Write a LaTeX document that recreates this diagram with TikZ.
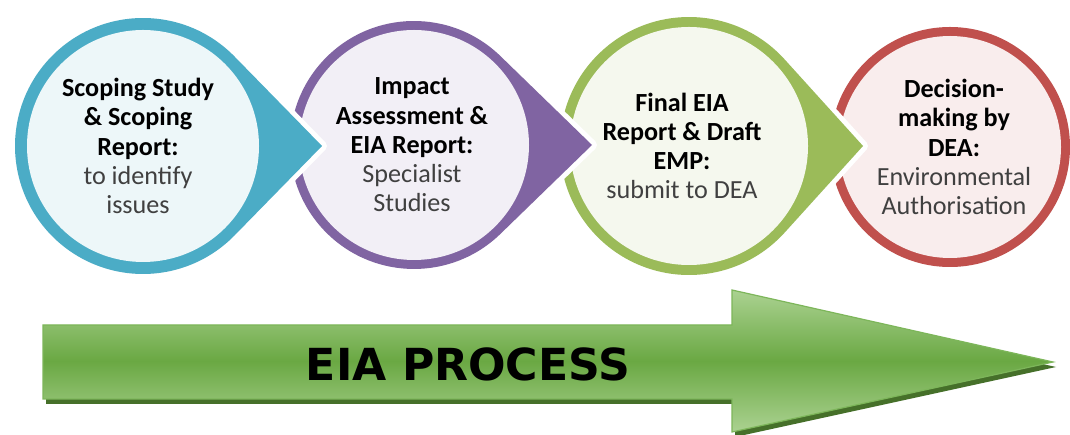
\documentclass[tikz,border=0pt]{standalone}
\usepackage{fontspec}
\setmainfont{Carlito}
\newfontfamily\bannerfont{DejaVu Sans}

\definecolor{scopingteal}{HTML}{4BACC6}
\definecolor{impactpurple}{HTML}{8064A2}
\definecolor{finalgreen}{HTML}{9BBB59}
\definecolor{decisionred}{HTML}{C0504D}
\definecolor{bodygray}{HTML}{404040}
\definecolor{arrowlight}{HTML}{ABD291}
\definecolor{arrowmid}{HTML}{6AA843}
\definecolor{arrowedge}{HTML}{7DB65A}
\definecolor{arrowshadow}{HTML}{46702A}

\tikzset{
  halo/.style={draw=white, line width=2.5mm, line join=round},
  stagetext/.style={align=center, text=black,
    font=\fontsize{18.6}{20.8}\selectfont\bfseries},
  banner/.style={text=black, font=\bannerfont\bfseries\fontsize{31.4}{36}\selectfont},
}
\newcommand\plainline[1]{{\mdseries\color{bodygray}#1}}

\begin{document}
\begin{tikzpicture}[x=0.25mm, y=0.25mm]
\useasboundingbox (0,0) rectangle (1070,435);
\fill[white] (0,0) rectangle (1070,435);

% Drawing stage 4 (plain circle, nothing points out of it)
\fill[decisionred] (950.000000,288.000000) circle (120);
\fill[decisionred!10] (950.000000,288.000000) circle (111);

% Drawing stage 3 drop, tip at (863,289)
\draw[halo] (863.000000,289.000000) -- (784.640000,375.570000) arc (42.16:317.84:129) -- cycle;
\fill[finalgreen] (863.000000,289.000000) -- (784.640000,375.570000) arc (42.16:317.84:129) -- cycle;
\fill[finalgreen!10] (689.000000,289.000000) circle (119);

% Drawing stage 2 drop, tip at (592,290)
\draw[halo] (592.000000,290.000000) -- (500.380000,378.960000) arc (45.84:314.16:124) -- cycle;
\fill[impactpurple] (592.000000,290.000000) -- (500.380000,378.960000) arc (45.84:314.16:124) -- cycle;
\fill[impactpurple!10] (414.000000,290.000000) circle (115);

% Drawing stage 1 drop, tip at (322,289)
\draw[halo] (322.000000,289.000000) -- (234.530000,378.470000) arc (44.35:315.65:128) -- cycle;
\fill[scopingteal] (322.000000,289.000000) -- (234.530000,378.470000) arc (44.35:315.65:128) -- cycle;
\fill[scopingteal!10] (143.000000,289.000000) circle (116);

% Marking the stage texts
\node[stagetext] (scoping) at (138,289) {Scoping Study\\ \& Scoping\\ Report:\\
  \plainline{to identify}\\ \plainline{issues}};
\node[stagetext] (impact) at (412,290) {Impact\\ Assessment \&\\ EIA Report:\\
  \plainline{Specialist}\\ \plainline{Studies}};
\node[stagetext] (final) at (682,289) {Final EIA\\ Report \& Draft\\ EMP:\\
  \plainline{submit to DEA}};
\node[stagetext] (decision) at (954,288) {Decision-\\ making by\\ DEA:\\
  \plainline{Environmental}\\ \plainline{Authorisation}};

% Drawing the process arrow with its shadow
\fill[arrowshadow, shift={(3,-5)}] (43,110) -- (732,110) -- (732,145) -- (1053,73)
  -- (732,3) -- (732,36) -- (43,36) -- cycle;
\shade[top color=arrowlight, bottom color=arrowlight, middle color=arrowmid,
  draw=arrowedge, line width=0.3mm]
  (43,110) -- (732,110) -- (732,145) -- (1053,73) -- (732,3) -- (732,36) -- (43,36) -- cycle;
\node[banner] (process) at (468,71) {EIA PROCESS};
\end{tikzpicture}
\end{document}
